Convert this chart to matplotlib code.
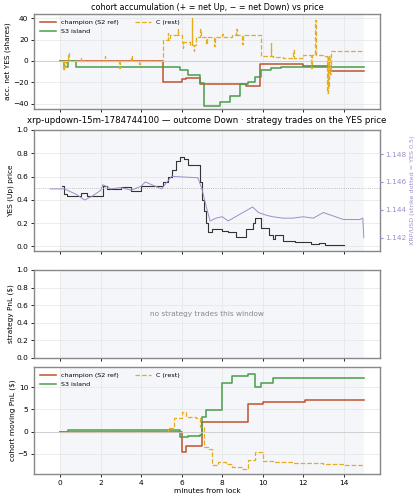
import matplotlib
matplotlib.use("Agg")
import matplotlib.pyplot as plt
import numpy as np

# panel 1: accumulated net YES shares (step points)
ch_t = [0, 5.1, 6.0, 6.2, 6.9, 9.2, 9.85, 12.0, 13.4, 15]
ch_v = [0, -20, -17, -16, -22, -23, -3, -5, -9, -9]
s3_t = [0, 0.2, 0.4, 0.8, 5.9, 6.3, 6.9, 7.1, 7.9, 8.4, 8.9, 9.3, 9.6, 9.9, 10.4, 10.9, 15]
s3_v = [0, -6, 0, -6, -8, -13, -21, -42, -38, -33, -22, -20, -15, -8, -7, -6, -6]
# C (rest): base plateaus plus short spikes
c_base_t = [0, 5.1, 5.4, 6.0, 6.4, 6.7, 8.5, 9.9, 10.5, 11.0, 12.0, 13.0, 13.4, 15]
c_base_v = [0, 20, 24, 18, 15, 22, 24, 5, 4, 3, 6, 5, 9, 9]
c_spk_t = [0.15, 0.25, 0.4, 1.0, 2.2, 2.9, 3.5, 3.9, 5.3, 5.8, 6.05, 6.5, 6.6, 6.9, 7.2, 7.6, 8.0, 8.7, 9.0, 10.4, 11.5, 12.4, 12.6, 13.2, 13.25, 13.35]
c_spk_v = [-8, -6, 7, 3, 5, -7, 5, -3, 26, 30, 12, 40, 9, 30, 16, 14, 25, 30, 16, 17, 10, -7, 38, -30, -25, -12]

# panel 2: YES price and XRP/USD
yes_t = [0.1, 0.2, 0.35, 1.0, 1.3, 2.1, 2.3, 3.0, 3.5, 4.0, 5.1, 5.3, 5.5, 5.7, 5.9, 6.1, 6.3, 6.9, 7.0, 7.1, 7.2, 7.3, 7.5, 8.0, 8.3, 8.7, 9.2, 9.5, 9.6, 9.9, 10.3, 10.5, 10.6, 11.0, 11.6, 12.4, 12.8, 13.1, 14.0]
yes_v = [0.52, 0.45, 0.43, 0.46, 0.43, 0.52, 0.49, 0.51, 0.48, 0.52, 0.55, 0.60, 0.66, 0.73, 0.77, 0.75, 0.70, 0.55, 0.40, 0.30, 0.20, 0.12, 0.15, 0.13, 0.12, 0.08, 0.15, 0.20, 0.24, 0.16, 0.10, 0.06, 0.10, 0.05, 0.04, 0.02, 0.03, 0.01, 0.01]
xrp_t = [-0.5, 0.2, 0.8, 1.2, 1.6, 2.0, 2.1, 2.5, 3.0, 3.5, 4.0, 4.2, 5.0, 5.5, 6.8, 7.0, 7.2, 7.4, 7.7, 8.0, 8.3, 9.5, 9.8, 10.2, 10.5, 11.0, 11.5, 12.0, 12.5, 13.0, 13.4, 14.0, 14.5, 14.8, 14.95, 15.0]
xrp_v = [1.1455, 1.1455, 1.1451, 1.1447, 1.1450, 1.1454, 1.1458, 1.1455, 1.1456, 1.1454, 1.1457, 1.1460, 1.1455, 1.1464, 1.1463, 1.1455, 1.1443, 1.1432, 1.1434, 1.1435, 1.1432, 1.1442, 1.1438, 1.1436, 1.1435, 1.1434, 1.1434, 1.1435, 1.1434, 1.1438, 1.1436, 1.1433, 1.1433, 1.1433, 1.1434, 1.1420]

# panel 4: cohort moving PnL
pch_t = [0, 5.9, 6.0, 6.2, 7.0, 9.3, 10.0, 12.0, 12.1, 13.5, 15]
pch_v = [0, 0, -4.5, -3.3, 2.2, 6.3, 6.6, 6.7, 7.0, 7.2, 7.2]
ps3_t = [0, 0.4, 0.8, 5.9, 6.3, 6.9, 7.0, 7.2, 8.0, 8.5, 9.3, 9.6, 9.9, 10.5, 15]
ps3_v = [0, 0.4, 0.3, -1.3, -1.0, -0.8, 3.2, 4.9, 11, 12.5, 13, 10, 11, 12, 12]
pc_t = [0, 5.3, 5.6, 6.0, 6.2, 6.7, 6.9, 7.1, 7.3, 7.5, 7.8, 8.2, 8.5, 9.0, 9.3, 9.6, 10.0, 10.5, 11.5, 13.0, 14.0, 15]
pc_v = [0, 0.8, 3.0, 4.5, 3.3, 3.0, 1.0, -3.5, -4.0, -7.5, -6.8, -7.3, -8.0, -8.3, -6.3, -4.6, -6.5, -6.8, -7.0, -7.2, -7.4, -7.4]

C_CH = "#c0522d"; C_S3 = "#4a9e4a"; C_C = "#e6ac1e"; C_X = "#a08cc8"
FS = 5.3

# merge C base and spikes into one step path
def base_at(t):
    i = np.searchsorted(c_base_t, t, side="right") - 1
    return c_base_v[max(i, 0)]
pts = [(t, v) for t, v in zip(c_base_t, c_base_v)]
for t, v in zip(c_spk_t, c_spk_v):
    pts.append((t, v)); pts.append((t + 0.03, base_at(t + 0.03)))
pts.sort()
c_t = [p[0] for p in pts]; c_v = [p[1] for p in pts]

fig = plt.figure(figsize=(4.19, 5.0), dpi=100)
L, W = 34/419, 346/419
def ax_at(top, bot):
    return fig.add_axes([L, 1-bot/500, W, (bot-top)/500])
a1 = ax_at(14, 109); a2 = ax_at(130, 251); a3 = ax_at(270, 358); a4 = ax_at(367, 474)
for a in (a1, a2, a3, a4):
    a.axvspan(0, 15, color="#eef0f8", alpha=0.6, lw=0)
    a.set_xlim(-1.3, 15.8)
    a.grid(True, color="#e4e4e4", lw=0.5)
    a.tick_params(labelsize=FS, length=2.5, width=0.6, pad=1.5)
    for s in a.spines.values():
        s.set_color("#888"); s.set_linewidth(1.0)
    a.set_xticks([0, 2, 4, 6, 8, 10, 12, 14])
for a in (a1, a2, a3):
    a.set_xticklabels([])

a1.step(ch_t, ch_v, where="post", color=C_CH, lw=1.1, label="champion (S2 ref)")
a1.step(s3_t, s3_v, where="post", color=C_S3, lw=1.1, label="S3 island")
a1.step(c_t, c_v, where="post", color=C_C, lw=0.9, ls="--", label="C (rest)")
a1.axhline(0, color="#ccc", lw=0.6)
a1.set_ylim(-45, 44); a1.set_yticks([-40, -20, 0, 20, 40])
a1.set_ylabel("acc. net YES (shares)", fontsize=FS, labelpad=1)
a1.set_title("cohort accumulation (+ = net Up, − = net Down) vs price", fontsize=5.8, pad=3)
a1.legend(loc="upper left", ncol=2, fontsize=4.6, frameon=False, handlelength=2.5, columnspacing=2.5)

a2.step(yes_t, yes_v, where="post", color="#333", lw=0.8)
a2.axhline(0.5, color="#aaa", lw=0.6, ls=":")
a2.set_ylim(-0.04, 1.0); a2.set_yticks([0, 0.2, 0.4, 0.6, 0.8, 1.0])
a2.set_ylabel("YES (Up) price", fontsize=FS, labelpad=2)
a2.set_title("xrp-updown-15m-1784744100 — outcome Down · strategy trades on the YES price", fontsize=6.2, pad=5)
ax2 = a2.twinx()
ax2.plot(xrp_t, xrp_v, color=C_X, lw=0.7)
ax2.set_ylim(1.14104, 1.14973)
ax2.set_yticks([1.142, 1.144, 1.146, 1.148])
ax2.tick_params(labelsize=FS, colors=C_X, length=2.5, pad=1.5)
ax2.set_ylabel("XRP/USD (strike dotted = YES 0.5)", fontsize=4.6, color=C_X, labelpad=2)
ax2.set_xlim(-1.3, 15.8)
for s in ax2.spines.values():
    s.set_visible(False)

a3.set_ylim(0, 1.0); a3.set_yticks([0, 0.2, 0.4, 0.6, 0.8, 1.0])
a3.set_ylabel("strategy PnL ($)", fontsize=FS, labelpad=2)
a3.text(0.5, 0.5, "no strategy trades this window", transform=a3.transAxes, ha="center", va="center", fontsize=FS, color="#888")

a4.step(pch_t, pch_v, where="post", color=C_CH, lw=1.1, label="champion (S2 ref)")
a4.step(ps3_t, ps3_v, where="post", color=C_S3, lw=1.1, label="S3 island")
a4.step(pc_t, pc_v, where="post", color=C_C, lw=0.9, ls="--", label="C (rest)")
a4.axhline(0, color="#ccc", lw=0.6)
a4.set_ylim(-9.5, 14.5); a4.set_yticks([-5, 0, 5, 10])
a4.set_ylabel("cohort moving PnL ($)", fontsize=FS, labelpad=1)
a4.set_xlabel("minutes from lock", fontsize=FS, labelpad=2)
a4.legend(loc="upper left", ncol=2, fontsize=4.6, frameon=False, handlelength=2.5, columnspacing=2.5)

fig.savefig("out.png", dpi=100)
